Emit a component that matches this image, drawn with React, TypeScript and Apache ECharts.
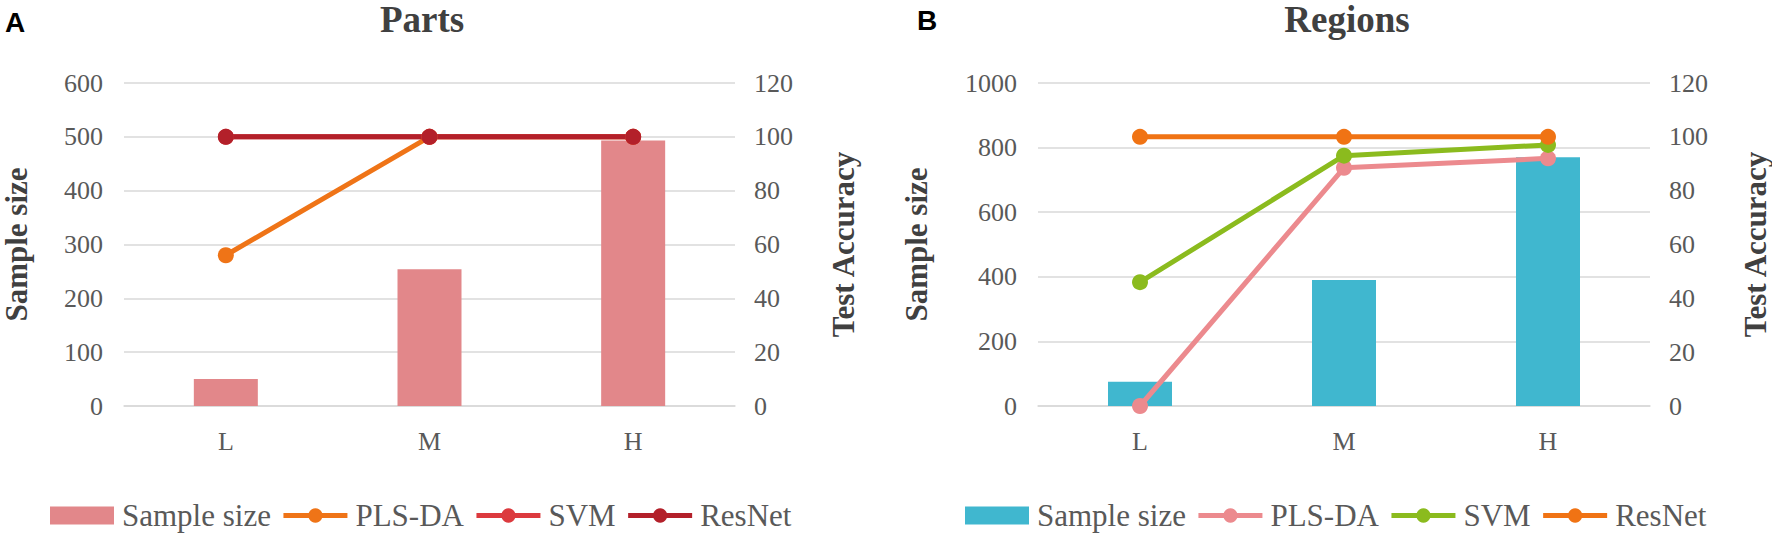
import React, { useEffect, useRef } from "react";
import * as echarts from "echarts";

const categories = ["L", "M", "H"];
const partsSample = [50, 254, 493];
const partsPLSDA = [56, 100, 100];
const partsSVM = [100, 100, 100];
const partsResNet = [100, 100, 100];
const regionsSample = [75, 390, 770];
const regionsPLSDA = [0, 88.5, 92];
const regionsSVM = [46, 93, 97];
const regionsResNet = [100, 100, 100];
const legendNames = ["Sample size", "PLS-DA", "SVM", "ResNet"];

const SERIF = "Liberation Serif, Times New Roman, serif";
const GRID_COLOR = "#D9D9D9";
const TICK_COLOR = "#595959";
const NAME_COLOR = "#404040";

export default function App() {
  const ref = useRef<HTMLDivElement>(null);
  useEffect(() => {
    if (!ref.current) return;
    const chart = echarts.init(ref.current, null, { renderer: "svg" });

    const plain = (v: number) => String(v);

    const xAxis = (gridIndex: number) => ({
      type: "category",
      gridIndex,
      data: categories,
      axisTick: { show: false },
      axisLine: { show: true, lineStyle: { color: GRID_COLOR, width: 1.5 } },
      axisLabel: { color: TICK_COLOR, fontFamily: SERIF, fontSize: 26, margin: 22 },
    });

    const yLeft = (gridIndex: number, max: number, interval: number, nameGap: number) => ({
      type: "value",
      gridIndex,
      position: "left",
      min: 0,
      max,
      interval,
      name: "Sample size",
      nameLocation: "middle",
      nameRotate: 90,
      nameGap,
      nameTextStyle: { color: NAME_COLOR, fontFamily: SERIF, fontSize: 31, fontWeight: "bold" },
      axisLine: { show: false },
      axisTick: { show: false },
      axisLabel: { color: TICK_COLOR, fontFamily: SERIF, fontSize: 26, margin: 21, formatter: plain },
      splitLine: { show: true, lineStyle: { color: GRID_COLOR, width: 1.5 } },
    });

    const yRight = (gridIndex: number, nameGap: number) => ({
      type: "value",
      gridIndex,
      position: "right",
      min: 0,
      max: 120,
      interval: 20,
      name: "Test Accuracy",
      nameLocation: "middle",
      nameRotate: 90,
      nameGap,
      nameTextStyle: { color: NAME_COLOR, fontFamily: SERIF, fontSize: 31, fontWeight: "bold" },
      axisLine: { show: false },
      axisTick: { show: false },
      axisLabel: { color: TICK_COLOR, fontFamily: SERIF, fontSize: 26, margin: 19, formatter: plain },
      splitLine: { show: false },
    });

    const lineSeries = (name: string, data: number[], color: string, xi: number, yi: number) => ({
      name,
      type: "line",
      xAxisIndex: xi,
      yAxisIndex: yi,
      data,
      symbol: "circle",
      symbolSize: 16,
      lineStyle: { color, width: 5 },
      itemStyle: { color },
    });

    const legend = (left: number, suffix: string) => ({
      left,
      top: 495,
      itemWidth: 64,
      itemHeight: 18,
      itemGap: 10,
      data: legendNames.map((n, i) => ({ name: n + suffix, icon: i === 0 ? "rect" : undefined })),
      formatter: (n: string) => n.trim(),
      lineStyle: { width: 5 },
      textStyle: { color: TICK_COLOR, fontFamily: SERIF, fontSize: 31, padding: [0, 0, 0, 3] },
    });

    const option = {
      animation: false,
      backgroundColor: "#ffffff",
      grid: [
        { left: 109, right: 1772 - 735, top: 83, bottom: 535 - 406 },
        { left: 1038, right: 1772 - 1656, top: 83, bottom: 535 - 406 },
      ],
      xAxis: [xAxis(0), xAxis(1)],
      yAxis: [yLeft(0, 600, 100, 92), yRight(0, 93), yLeft(1, 1000, 200, 106), yRight(1, 90)],
      legend: [legend(45, ""), legend(960, " ")],
      series: [
        {
          name: legendNames[0],
          type: "bar",
          xAxisIndex: 0,
          yAxisIndex: 0,
          data: partsSample,
          barWidth: 64,
          itemStyle: { color: "#E2878A" },
        },
        lineSeries(legendNames[1], partsPLSDA, "#EF7417", 0, 1),
        lineSeries(legendNames[2], partsSVM, "#DC3A3E", 0, 1),
        lineSeries(legendNames[3], partsResNet, "#B3202A", 0, 1),
        {
          name: legendNames[0] + " ",
          type: "bar",
          xAxisIndex: 1,
          yAxisIndex: 2,
          data: regionsSample,
          barWidth: 64,
          itemStyle: { color: "#40B7CF" },
        },
        lineSeries(legendNames[1] + " ", regionsPLSDA, "#EC8A8E", 1, 3),
        lineSeries(legendNames[2] + " ", regionsSVM, "#8BBB1E", 1, 3),
        lineSeries(legendNames[3] + " ", regionsResNet, "#F07314", 1, 3),
      ],
      graphic: [
        {
          type: "text",
          left: 5,
          top: 8,
          style: { text: "A", font: "bold 28px Liberation Sans, Arial, sans-serif", fill: "#000" },
        },
        {
          type: "text",
          left: 917,
          top: 6,
          style: { text: "B", font: "bold 28px Liberation Sans, Arial, sans-serif", fill: "#000" },
        },
        {
          type: "text",
          x: 422,
          y: 1,
          style: {
            text: "Parts",
            font: `bold 37px ${SERIF}`,
            fill: NAME_COLOR,
            textAlign: "center",
            textVerticalAlign: "top",
          },
        },
        {
          type: "text",
          x: 1347,
          y: 1,
          style: {
            text: "Regions",
            font: `bold 37px ${SERIF}`,
            fill: NAME_COLOR,
            textAlign: "center",
            textVerticalAlign: "top",
          },
        },
      ],
    };

    chart.setOption(option as any);
    return () => chart.dispose();
  }, []);

  return (
    <div
      ref={ref}
      style={{ position: "absolute", left: 0, top: 0, width: 1772, height: 535 }}
    />
  );
}
